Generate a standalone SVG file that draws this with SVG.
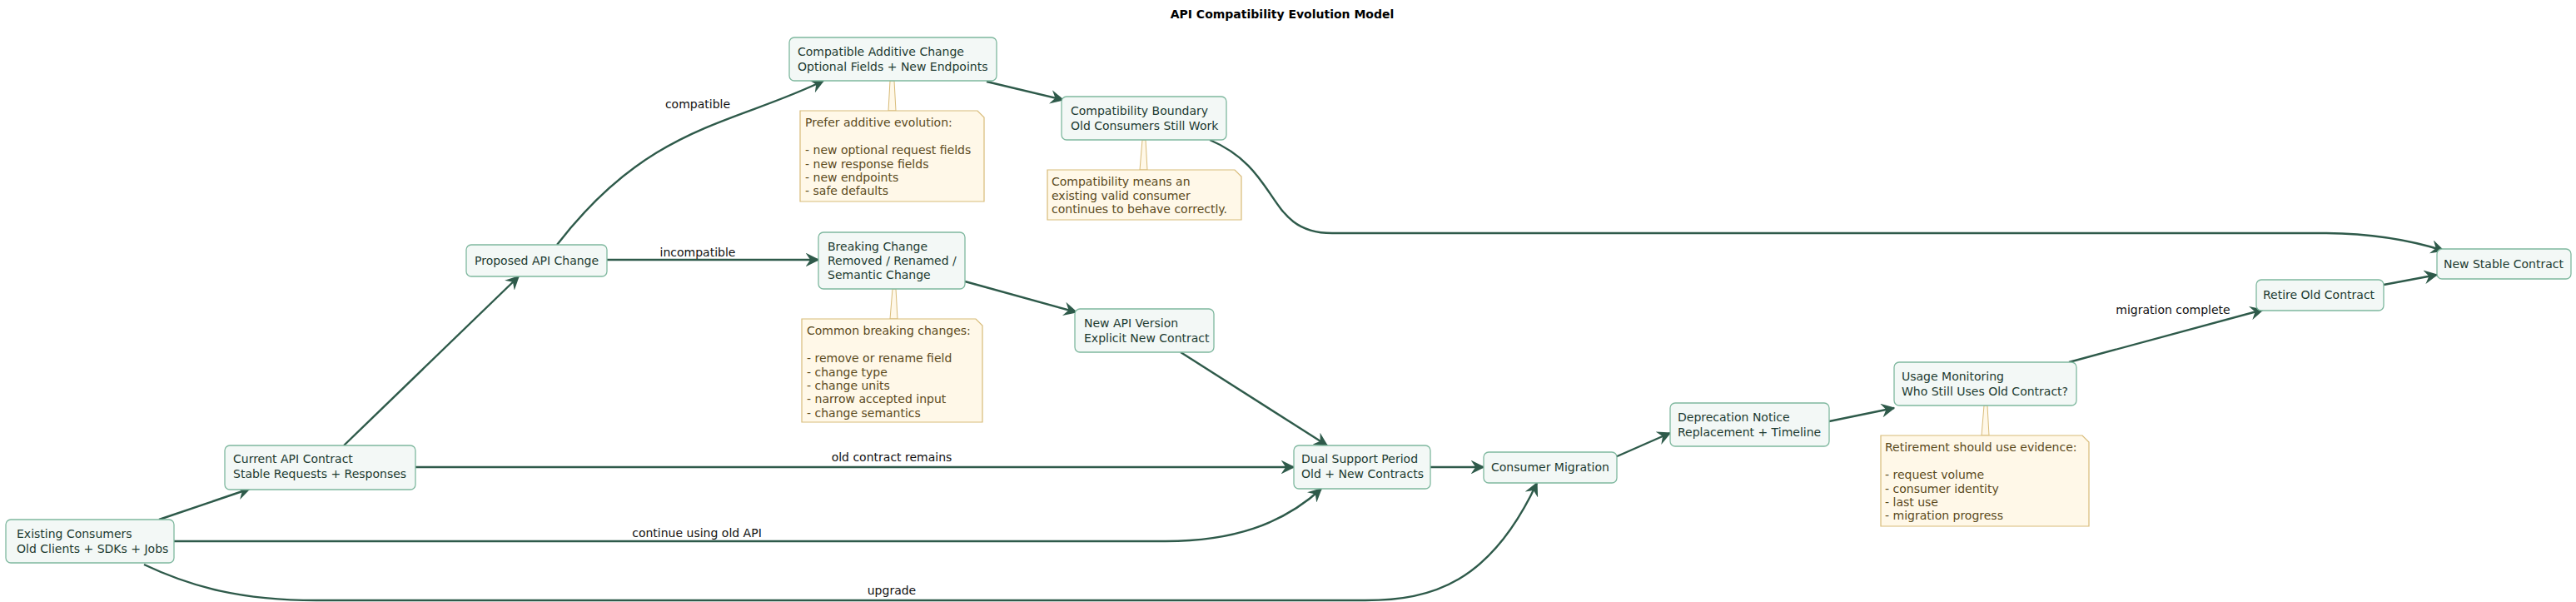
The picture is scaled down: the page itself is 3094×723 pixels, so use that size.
<svg xmlns="http://www.w3.org/2000/svg" width="3094" height="723" viewBox="0 0 3094 723">
<style>
.n rect{fill:#f3f8f6;stroke:#7fb89f;stroke-width:1.3}
.n text,.t{font-family:"DejaVu Sans",sans-serif;font-size:14px;fill:#1d3b31}
.note path{fill:#fff8e8;stroke:#d8bb78;stroke-width:1.2}
.note text{font-family:"DejaVu Sans",sans-serif;font-size:14px;fill:#5b4a1c}
.e path{fill:none;stroke:#2e5a4a;stroke-width:2.4}
.lbl{font-family:"DejaVu Sans",sans-serif;font-size:14px;fill:#111;text-anchor:middle}
.tail{fill:#fff8e8;stroke:#d8bb78;stroke-width:1}
</style>
<defs><marker id="a" viewBox="0 0 12 12" refX="11" refY="6" markerWidth="7" markerHeight="7" markerUnits="strokeWidth" orient="auto"><path d="M0,0 L12,6 L0,12 L4,6 Z" fill="#2e5a4a"/></marker></defs>
<rect width="3094" height="723" fill="#fff"/>
<text x="1540" y="22" text-anchor="middle" font-family="DejaVu Sans,sans-serif" font-size="14" font-weight="bold">API Compatibility Evolution Model</text>
<g id="connectors" class="e">
<path d="M191,624 L300,587" marker-end="url(#a)"/>
<path d="M209,650 L1400,650 C1480,650 1540,630 1587,587" marker-end="url(#a)"/>
<path d="M173,678 C230,705 290,721 380,721 L1640,721 C1720,721 1790,700 1846,580" marker-end="url(#a)"/>
<path d="M413,535 L623,332" marker-end="url(#a)"/>
<path d="M499,561 L1554,561" marker-end="url(#a)"/>
<path d="M669,294 C780,150 880,150 989,97" marker-end="url(#a)"/>
<path d="M729,312 L983,312" marker-end="url(#a)"/>
<path d="M1185,98 L1277,120" marker-end="url(#a)"/>
<path d="M1159,338 L1293,375" marker-end="url(#a)"/>
<path d="M1453,168 C1540,205 1520,280 1600,280 L2790,280 C2850,280 2900,290 2935,301" marker-end="url(#a)"/>
<path d="M1418,423 L1594,535" marker-end="url(#a)"/>
<path d="M1718,561 L1782,561" marker-end="url(#a)"/>
<path d="M1940,549 L2006,520" marker-end="url(#a)"/>
<path d="M2197,506 L2275,490" marker-end="url(#a)"/>
<path d="M2485,435 L2718,372" marker-end="url(#a)"/>
<path d="M2863,342 L2927,330" marker-end="url(#a)"/>
<text class="lbl" x="837" y="645">continue using old API</text>
<text class="lbl" x="1071" y="714">upgrade</text>
<text class="lbl" x="1071" y="554">old contract remains</text>
<text class="lbl" x="838" y="130">compatible</text>
<text class="lbl" x="838" y="308">incompatible</text>
<text class="lbl" x="2610" y="377">migration complete</text>
</g>
<g id="note-tails">
<polygon class="tail" points="1069,97 1074,97 1076,133 1067,133"/>
<polygon class="tail" points="1072,347 1076,347 1078,383 1069,383"/>
<polygon class="tail" points="1372,168 1376,168 1378,204 1369,204"/>
<polygon class="tail" points="2383,487 2387,487 2389,523 2380,523"/>
</g>
<g id="existing" class="n"><rect x="7" y="624" width="202" height="52" rx="6"/><text x="20" y="646">Existing Consumers</text><text x="20" y="664">Old Clients + SDKs + Jobs</text></g>
<g id="current" class="n"><rect x="270" y="535" width="229" height="53" rx="6"/><text x="280" y="556">Current API Contract</text><text x="280" y="574">Stable Requests + Responses</text></g>
<g id="proposed" class="n"><rect x="560" y="294" width="169" height="38" rx="6"/><text x="570" y="318">Proposed API Change</text></g>
<g id="compatible" class="n"><rect x="948" y="45" width="249" height="52" rx="6"/><text x="958" y="67">Compatible Additive Change</text><text x="958" y="85">Optional Fields + New Endpoints</text></g>
<g id="boundary" class="n"><rect x="1275" y="116" width="198" height="52" rx="6"/><text x="1286" y="138">Compatibility Boundary</text><text x="1286" y="156">Old Consumers Still Work</text></g>
<g id="breaking" class="n"><rect x="983" y="279" width="176" height="68" rx="6"/><text x="994" y="301">Breaking Change</text><text x="994" y="318">Removed / Renamed /</text><text x="994" y="335">Semantic Change</text></g>
<g id="newversion" class="n"><rect x="1291" y="371" width="167" height="52" rx="6"/><text x="1302" y="393">New API Version</text><text x="1302" y="411">Explicit New Contract</text></g>
<g id="dual" class="n"><rect x="1554" y="535" width="164" height="52" rx="6"/><text x="1563" y="556">Dual Support Period</text><text x="1563" y="574">Old + New Contracts</text></g>
<g id="migration" class="n"><rect x="1782" y="543" width="160" height="37" rx="6"/><text x="1791" y="566">Consumer Migration</text></g>
<g id="deprecation" class="n"><rect x="2006" y="484" width="191" height="52" rx="6"/><text x="2015" y="506">Deprecation Notice</text><text x="2015" y="524">Replacement + Timeline</text></g>
<g id="usage" class="n"><rect x="2275" y="435" width="219" height="52" rx="6"/><text x="2284" y="457">Usage Monitoring</text><text x="2284" y="475">Who Still Uses Old Contract?</text></g>
<g id="retire" class="n"><rect x="2710" y="336" width="153" height="37" rx="6"/><text x="2718" y="359">Retire Old Contract</text></g>
<g id="newstable" class="n"><rect x="2927" y="299" width="161" height="36" rx="6"/><text x="2935" y="322">New Stable Contract</text></g>
<g id="note-additive" class="note"><path d="M961,133 H1174 L1182,141 V242 H961 Z"/><text x="967" y="152">Prefer additive evolution:</text><text x="967" y="185">- new optional request fields</text><text x="967" y="202">- new response fields</text><text x="967" y="218">- new endpoints</text><text x="967" y="234">- safe defaults</text></g>
<g id="note-compat" class="note"><path d="M1258,204 H1483 L1491,212 V264 H1258 Z"/><text x="1263" y="223">Compatibility means an</text><text x="1263" y="240">existing valid consumer</text><text x="1263" y="256">continues to behave correctly.</text></g>
<g id="note-breaking" class="note"><path d="M963,383 H1172 L1180,391 V507 H963 Z"/><text x="969" y="402">Common breaking changes:</text><text x="969" y="435">- remove or rename field</text><text x="969" y="452">- change type</text><text x="969" y="468">- change units</text><text x="969" y="484">- narrow accepted input</text><text x="969" y="501">- change semantics</text></g>
<g id="note-retire" class="note"><path d="M2259,523 H2501 L2509,531 V632 H2259 Z"/><text x="2264" y="542">Retirement should use evidence:</text><text x="2264" y="575">- request volume</text><text x="2264" y="592">- consumer identity</text><text x="2264" y="608">- last use</text><text x="2264" y="624">- migration progress</text></g>
</svg>
